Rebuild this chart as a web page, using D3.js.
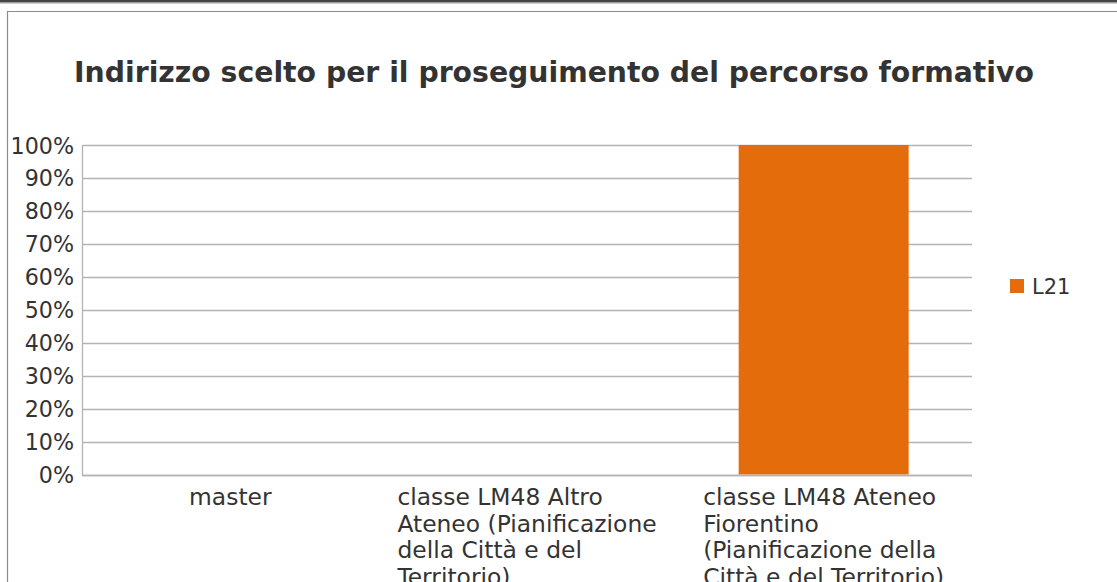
<!DOCTYPE html>
<html><head><meta charset="utf-8">
<script src="https://cdn.jsdelivr.net/npm/d3@7"></script>
<style>html,body{margin:0;padding:0;background:#fff;overflow:hidden}svg{display:block}</style>
</head><body>
<svg id="c" width="1117" height="582"></svg>
<script>
const title = "Indirizzo scelto per il proseguimento del percorso formativo";
const categories = ["master", "classe LM48 Altro Ateneo (Pianificazione della Città e del Territorio)", "classe LM48 Ateneo Fiorentino (Pianificazione della Città e del Territorio)"];
const categoryLines = [
  ["master"],
  ["classe LM48 Altro", "Ateneo (Pianificazione", "della Città e del", "Territorio)"],
  ["classe LM48 Ateneo", "Fiorentino", "(Pianificazione della", "Città e del Territorio)"]
];
const seriesName = "L21";
const values = [0, 0, 1];
const yTicks = [0, 0.1, 0.2, 0.3, 0.4, 0.5, 0.6, 0.7, 0.8, 0.9, 1];

(function () {
const svg = d3.select("#c");
const W = 1117, H = 582;
const font = "'DejaVu Sans', sans-serif";
const textColor = "#333333";
const gridColor = "#b3b3b3";
const barColor = "#e46c0a";

// page frame artefacts
svg.append("rect").attr("x", 0).attr("y", 0).attr("width", W).attr("height", 2.5).attr("fill", "#444");
svg.append("line").attr("x1", 0).attr("x2", W).attr("y1", 3).attr("y2", 3).attr("stroke", "#9a9a9a").attr("stroke-width", 1);
// chart border
svg.append("path").attr("d", `M7.5,${H+2}V11.5H${W+2}`).attr("fill", "none").attr("stroke", "#8c8c8c").attr("stroke-width", 1.2);

const pL = 82, pR = 972, pT = 145, pB = 474.5;
const x = d3.scaleBand().domain(categories).range([pL, pR]).paddingInner(0.427).paddingOuter(0.2135);
const y = d3.scaleLinear().domain([0, 1]).range([pB, pT]);

// gridlines
svg.append("g").selectAll("line").data(yTicks).join("line")
  .attr("x1", pL).attr("x2", pR)
  .attr("y1", d => Math.round(y(d)) + 0.5).attr("y2", d => Math.round(y(d)) + 0.5)
  .attr("stroke", gridColor).attr("stroke-width", 1.3);

// bars
svg.append("g").selectAll("rect").data(values).join("rect")
  .attr("x", (d, i) => x(categories[i]))
  .attr("width", x.bandwidth())
  .attr("y", d => y(d))
  .attr("height", d => y(0) - y(d))
  .attr("fill", barColor);

// y axis
const yAxis = d3.axisLeft(y).tickValues(yTicks).tickFormat(d3.format(".0%")).tickSize(0).tickPadding(8);
const gy = svg.append("g").attr("transform", `translate(${pL},0)`).call(yAxis);
gy.select(".domain").attr("stroke", gridColor).attr("stroke-width", 1.3);
gy.selectAll("text").attr("font-family", font).attr("font-size", 22.2).attr("fill", textColor).attr("dy", "0.36em");

// x axis line
svg.append("line").attr("x1", pL).attr("x2", pR).attr("y1", Math.round(y(0)) + 0.5).attr("y2", Math.round(y(0)) + 0.5)
  .attr("stroke", gridColor).attr("stroke-width", 1.3);

// category labels (block centered, lines left aligned)
const catG = svg.append("g");
categories.forEach((c, i) => {
  const cx = x(c) + x.bandwidth() / 2;
  const g = catG.append("g");
  const lines = categoryLines[i];
  const t = g.selectAll("text").data(lines).join("text")
    .attr("font-family", font).attr("font-size", 23.4).attr("fill", textColor)
    .attr("y", (d, j) => 505 + j * 26.5)
    .text(d => d);
  let maxW = 0;
  t.each(function () { maxW = Math.max(maxW, this.getComputedTextLength()); });
  if (lines.length === 1) {
    t.attr("x", cx).attr("text-anchor", "middle");
  } else {
    t.attr("x", cx - maxW / 2);
  }
});

// title
svg.append("text").attr("x", 554).attr("y", 82).attr("text-anchor", "middle")
  .attr("font-family", font).attr("font-weight", "bold").attr("font-size", 28.3).attr("fill", textColor)
  .text(title);

// legend
svg.append("rect").attr("x", 1010).attr("y", 279).attr("width", 14).attr("height", 14).attr("fill", barColor);
svg.append("text").attr("x", 1032).attr("y", 294).attr("font-family", font).attr("font-size", 21).attr("fill", textColor).text(seriesName);
})();
</script>
</body></html>
